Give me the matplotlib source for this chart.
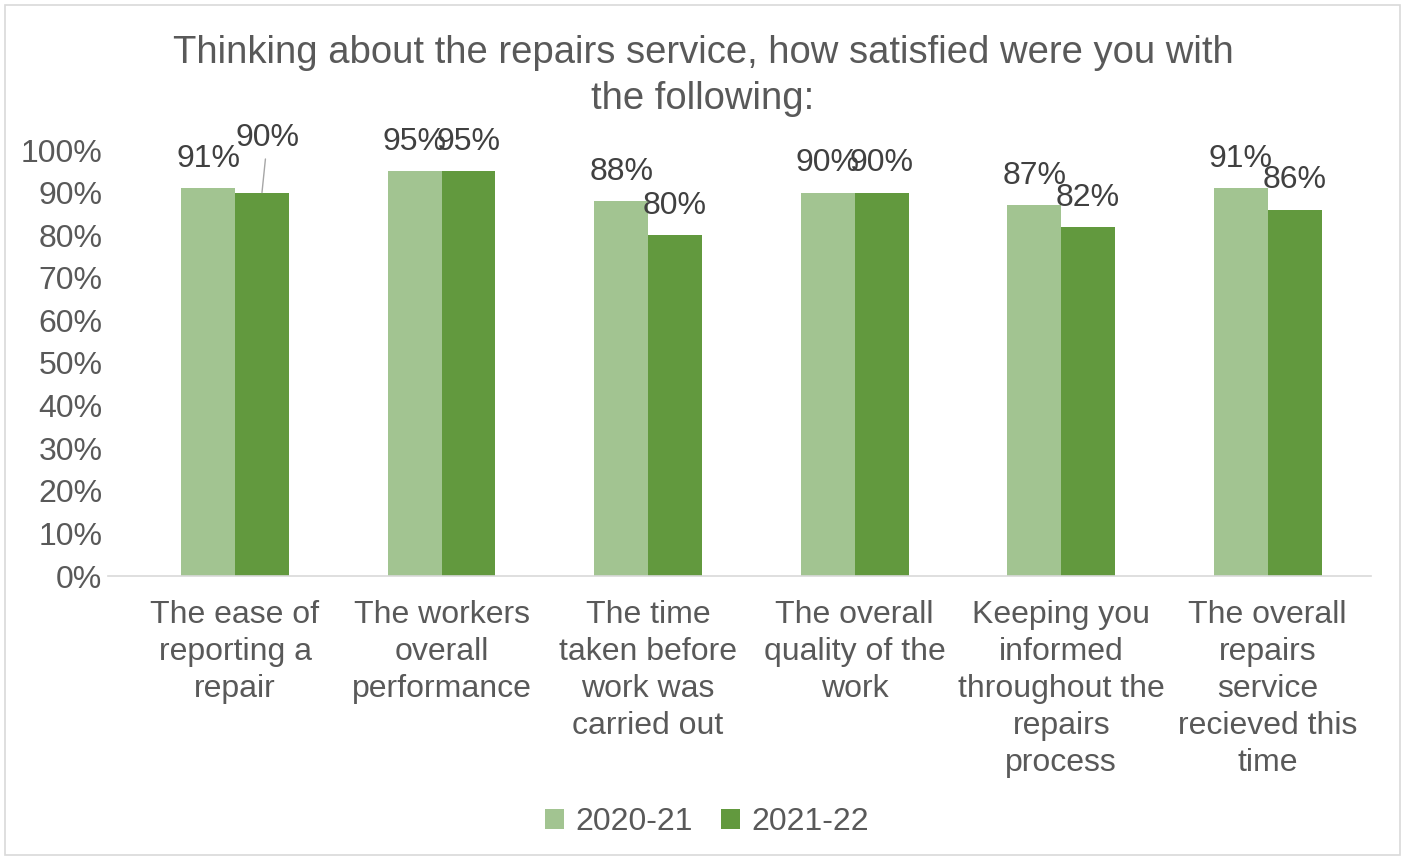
import numpy as np
import matplotlib
matplotlib.use('Agg')
import matplotlib.pyplot as plt
from matplotlib.patches import Rectangle

plt.rcParams['font.family'] = ['Liberation Sans', 'DejaVu Sans']

categories = [
    'The ease of\nreporting a\nrepair',
    'The workers\noverall\nperformance',
    'The time\ntaken before\nwork was\ncarried out',
    'The overall\nquality of the\nwork',
    'Keeping you\ninformed\nthroughout the\nrepairs\nprocess',
    'The overall\nrepairs\nservice\nrecieved this\ntime',
]
series_names = ['2020-21', '2021-22']
values_2020 = [0.91, 0.95, 0.88, 0.90, 0.87, 0.91]
values_2021 = [0.90, 0.95, 0.80, 0.90, 0.82, 0.86]

LIGHT = '#A2C491'
DARK = '#62993E'
TEXT = '#404040'
GREY = '#595959'
FS = 23

fig = plt.figure(figsize=(14.05, 8.59), dpi=100)
fig.patches.append(Rectangle((5 / 1405, 4 / 859), 1395 / 1405, 850 / 859,
                             transform=fig.transFigure, fill=False,
                             edgecolor='#D9D9D9', linewidth=1.2))

ax = fig.add_axes([108 / 1405, 283 / 859, 1263 / 1405, 426 / 859])

x = np.arange(len(categories))
w = 0.261
bars1 = ax.bar(x - w / 2, values_2020, w, color=LIGHT, label=series_names[0])
bars2 = ax.bar(x + w / 2, values_2021, w, color=DARK, label=series_names[1])

ax.set_xlim(-0.615, 5.5)
ax.set_ylim(0, 1)
ax.set_yticks(np.arange(0, 1.01, 0.1))
ax.set_yticklabels([f'{int(round(v * 100))}%' for v in np.arange(0, 1.01, 0.1)])
ax.set_xticks(x)
ax.set_xticklabels(categories, linespacing=1.31)
ax.tick_params(axis='y', length=0, pad=4, labelsize=FS, labelcolor=GREY)
ax.tick_params(axis='x', length=0, pad=17, labelsize=FS, labelcolor=GREY)

for s in ['top', 'right', 'left']:
    ax.spines[s].set_visible(False)
ax.spines['bottom'].set_color('#D9D9D9')
ax.spines['bottom'].set_linewidth(1.2)

for bars in (bars1, bars2):
    for i, bar in enumerate(bars):
        h = bar.get_height()
        cx = bar.get_x() + bar.get_width() / 2
        label = f'{int(round(h * 100))}%'
        if bars is bars2 and i == 0:
            # 这个标签被 Excel 挪开了，带一条引导线
            ax.annotate(label, xy=(cx, h), xytext=(4, 39),
                        textcoords='offset points', ha='center', va='center',
                        fontsize=FS, color=TEXT,
                        arrowprops=dict(arrowstyle='-', color='#A6A6A6', lw=1,
                                        shrinkA=2, shrinkB=0))
        else:
            ax.annotate(label, xy=(cx, h), xytext=(0, 21),
                        textcoords='offset points', ha='center', va='center',
                        fontsize=FS, color=TEXT)

fig.text(703 / 1405, 1 - 76 / 859,
         'Thinking about the repairs service, how satisfied were you with\nthe following:',
         ha='center', va='center', fontsize=27.5, color=GREY, linespacing=1.36)

fig.legend(handles=[bars1, bars2], labels=series_names, loc='center',
           bbox_to_anchor=(707 / 1405, 1 - 822 / 859), ncol=2, frameon=False,
           fontsize=FS, labelcolor=GREY, handlelength=0.6, handleheight=0.6,
           handletextpad=0.35, columnspacing=0.9)

fig.savefig('out.png', dpi=100)
